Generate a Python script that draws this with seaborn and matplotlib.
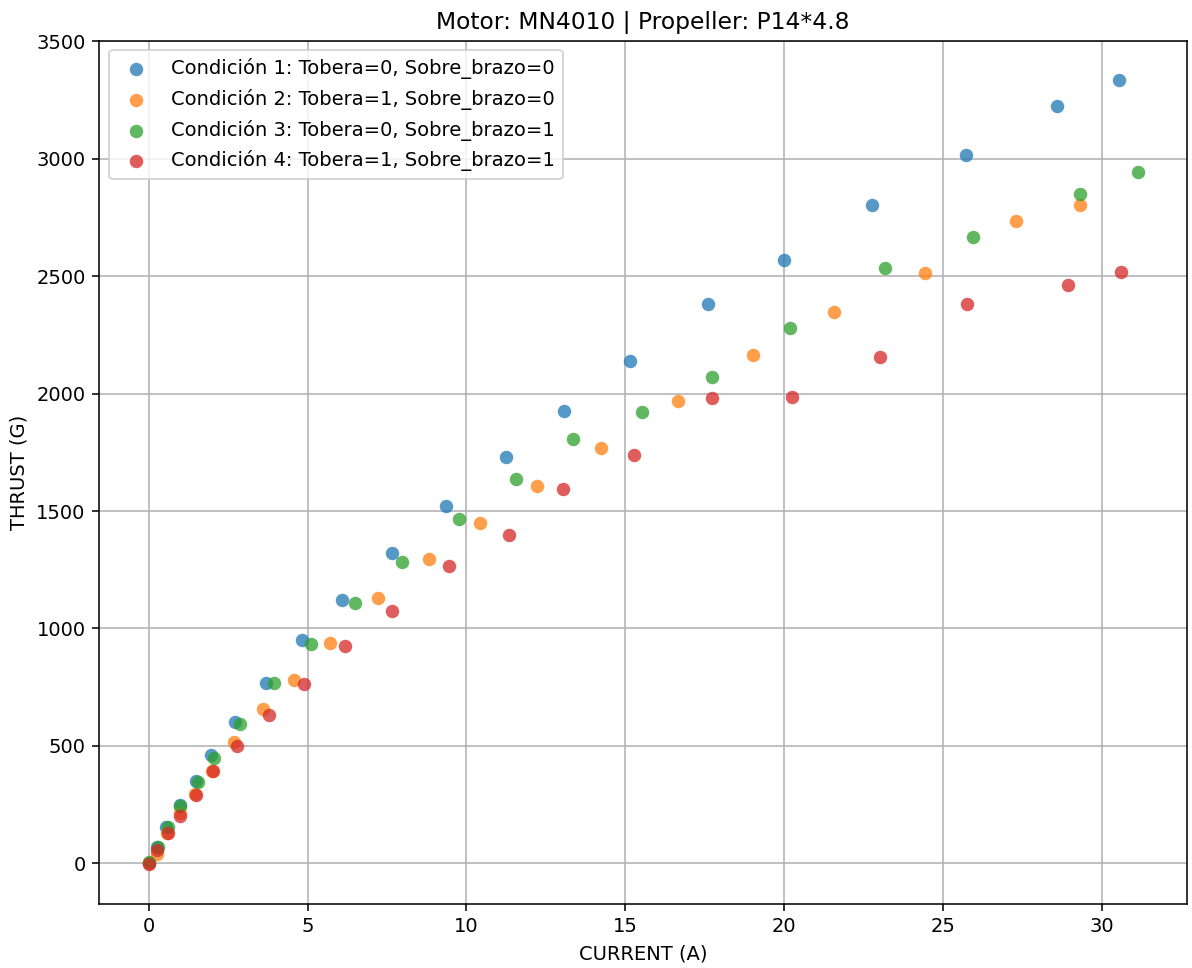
import matplotlib
matplotlib.use("Agg")
import matplotlib.pyplot as plt
import seaborn as sns
import pandas as pd

labels = [
    "Condición 1: Tobera=0, Sobre_brazo=0",
    "Condición 2: Tobera=1, Sobre_brazo=0",
    "Condición 3: Tobera=0, Sobre_brazo=1",
    "Condición 4: Tobera=1, Sobre_brazo=1",
]

current_c1 = [0, 0.27, 0.54, 0.98, 1.48, 1.95, 2.71, 3.69, 4.83, 6.09, 7.67,
              9.36, 11.25, 13.08, 15.15, 17.6, 20.0, 22.77, 25.73, 28.57, 30.55]
thrust_c1 = [0, 70, 155, 247, 349, 460, 600, 766, 949, 1122, 1320,
             1523, 1730, 1928, 2141, 2380, 2571, 2805, 3018, 3223, 3336]

current_c2 = [0, 0.27, 0.58, 0.98, 1.45, 2.0, 2.69, 3.6, 4.58, 5.71, 7.23,
              8.83, 10.43, 12.23, 14.23, 16.66, 19.02, 21.57, 24.44, 27.31, 29.32]
thrust_c2 = [0, 41, 130, 214, 297, 395, 515, 656, 781, 937, 1128,
             1294, 1450, 1605, 1767, 1967, 2163, 2346, 2512, 2737, 2805]

current_c3 = [0, 0.28, 0.6, 0.98, 1.54, 2.05, 2.87, 3.94, 5.11, 6.48, 7.98,
              9.75, 11.57, 13.34, 15.53, 17.73, 20.19, 23.18, 25.95, 29.32, 31.12]
thrust_c3 = [5, 68, 153, 243, 345, 447, 592, 766, 932, 1109, 1284,
             1467, 1636, 1809, 1920, 2073, 2278, 2533, 2669, 2852, 2946]

current_c4 = [0, 0.27, 0.6, 0.99, 1.48, 2.02, 2.77, 3.79, 4.88, 6.17, 7.67,
              9.45, 11.35, 13.04, 15.28, 17.73, 20.25, 23.02, 25.76, 28.94, 30.61]
thrust_c4 = [-5, 55, 128, 201, 290, 392, 501, 632, 763, 924, 1074,
             1265, 1397, 1594, 1737, 1980, 1984, 2158, 2380, 2461, 2520]

currents = [current_c1, current_c2, current_c3, current_c4]
thrusts = [thrust_c1, thrust_c2, thrust_c3, thrust_c4]

rows = []
for lab, xs, ys in zip(labels, currents, thrusts):
    for x, y in zip(xs, ys):
        rows.append({"Condición": lab, "CURRENT (A)": x, "THRUST (G)": y})
df = pd.DataFrame(rows)

colors = ["#1f77b4", "#ff7f0e", "#2ca02c", "#d62728"]

DPI = 140
fig = plt.figure(figsize=(1192 / DPI, 968 / DPI), dpi=DPI)
ax = fig.add_axes([99.3 / 1192, 1 - 903.7 / 968, (1187 - 99.3) / 1192, (903.7 - 40.7) / 968])

for lab, col in zip(labels, colors):
    sub = df[df["Condición"] == lab]
    sns.scatterplot(data=sub, x="CURRENT (A)", y="THRUST (G)", color=col,
                    alpha=0.75, s=48, linewidth=0,
                    label=lab, zorder=3, ax=ax)

ax.set_xlabel("CURRENT (A)")
ax.set_ylabel("THRUST (G)")
ax.set_title("Motor: MN4010 | Propeller: P14*4.8")
ax.grid(True)
ax.set_axisbelow(True)
ax.legend(loc="upper left")

fig.savefig("out.png", dpi=DPI)
